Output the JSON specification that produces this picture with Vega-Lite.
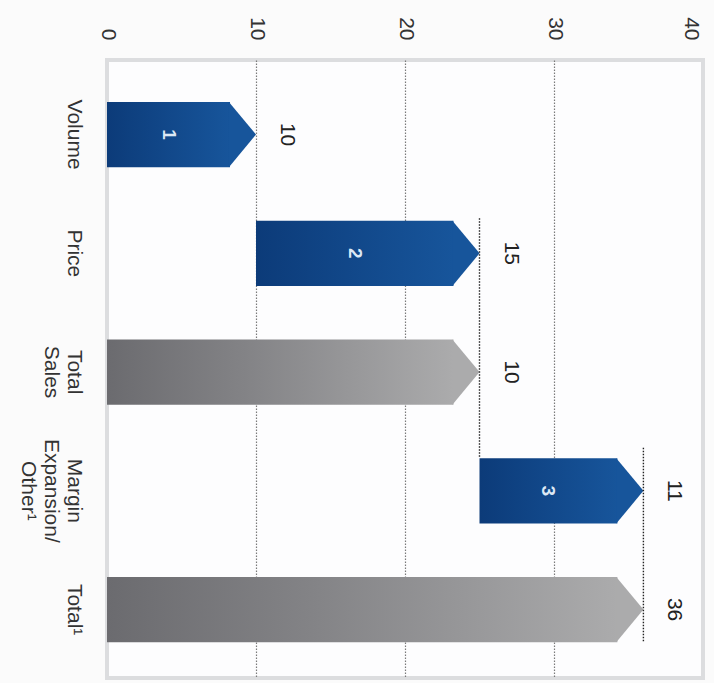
{
  "$schema": "https://vega.github.io/schema/vega-lite/v6.json",
  "width": 596,
  "height": 618,
  "autosize": "none",
  "padding": {"left": 107, "top": 60, "right": 11, "bottom": 5},
  "background": "#fbfbfb",
  "config": {
    "view": {"stroke": "#dcdddf", "strokeWidth": 4, "fill": "#fdfdfe"},
    "font": "Liberation Sans"
  },
  "datasets": {
    "bars": [
      {"cat": "Volume", "start": 0, "end": 10, "kind": "step", "num": "1", "label": "10"},
      {"cat": "Price", "start": 10, "end": 25, "kind": "step", "num": "2", "label": "15"},
      {"cat": "Total|Sales", "start": 0, "end": 25, "kind": "total", "num": "", "label": "10"},
      {"cat": "Margin|Expansion/|Other¹", "start": 25, "end": 36, "kind": "step", "num": "3", "label": "11"},
      {"cat": "Total¹", "start": 0, "end": 36, "kind": "total", "num": "", "label": "36"}
    ],
    "connectors": [
      {"value": 25, "from": "Price", "to": "Margin|Expansion/|Other¹", "seg": "a"},
      {"value": 36, "from": "Margin|Expansion/|Other¹", "to": "Total¹", "seg": "b"}
    ]
  },
  "layer": [
    {
      "data": {"name": "bars"},
      "transform": [{"filter": "datum.kind == 'step'"}],
      "mark": {
        "type": "bar",
        "x2Offset": -26,
        "color": {"gradient": "linear", "x1": 0, "x2": 1, "y1": 0, "y2": 0,
          "stops": [{"offset": 0, "color": "#0c3b79"}, {"offset": 1, "color": "#17559b"}]}
      },
      "encoding": {
        "y": {
          "field": "cat", "type": "nominal",
          "scale": {"domain": ["Volume", "Price", "Total|Sales", "Margin|Expansion/|Other¹", "Total¹"], "paddingInner": 0.45, "paddingOuter": 0.327, "align": 0.54},
          "axis": {
            "orient": "left", "title": null, "domain": false, "ticks": false,
            "labelAngle": 90, "labelAlign": "center", "labelBaseline": "top",
            "labelPadding": 23, "labelFontSize": 21, "labelColor": "#333333",
            "labelLineHeight": 23, "labelOverlap": false, "labelBound": false,
            "labelExpr": "split(datum.label, '|')", "grid": false
          }
        },
        "x": {
          "field": "start", "type": "quantitative",
          "scale": {"domain": [0, 40], "nice": false, "zero": false},
          "axis": {
            "orient": "top", "title": null, "domain": false, "ticks": false,
            "values": [0, 10, 20, 30, 40],
            "labelAngle": 90, "labelAlign": "right", "labelBaseline": "middle",
            "labelPadding": 20, "labelFontSize": 21, "labelColor": "#333333",
            "labelFlush": false, "labelOverlap": false, "labelBound": false,
            "labelOffset": {"condition": {"test": "datum.value == 40", "value": -13}, "value": 0},
            "grid": true, "gridDash": [1.5, 1.5], "gridColor": "#7a7a7a", "gridWidth": 1.2,
            "gridOpacity": {"condition": {"test": "datum.value == 0 || datum.value == 40", "value": 0}, "value": 1}
          }
        },
        "x2": {"field": "end"}
      }
    },
    {
      "data": {"name": "bars"},
      "transform": [{"filter": "datum.kind == 'total'"}],
      "mark": {
        "type": "bar",
        "x2Offset": -26,
        "color": {"gradient": "linear", "x1": 0, "x2": 1, "y1": 0, "y2": 0,
          "stops": [{"offset": 0, "color": "#6b6b6f"}, {"offset": 0.4, "color": "#838386"}, {"offset": 1, "color": "#ababac"}]}
      },
      "encoding": {
        "y": {"field": "cat", "type": "nominal"},
        "x": {"field": "start", "type": "quantitative"},
        "x2": {"field": "end"}
      }
    },
    {
      "data": {"name": "bars"},
      "transform": [{"filter": "datum.kind == 'step'"}],
      "mark": {"type": "point", "shape": "M -0.83 -1 L 0 0 L -0.83 1 Z", "filled": true, "opacity": 1, "size": 4264, "color": "#17559b", "strokeWidth": 0},
      "encoding": {
        "y": {"field": "cat", "type": "nominal"},
        "x": {"field": "end", "type": "quantitative"}
      }
    },
    {
      "data": {"name": "bars"},
      "transform": [{"filter": "datum.kind == 'total'"}],
      "mark": {"type": "point", "shape": "M -0.83 -1 L 0 0 L -0.83 1 Z", "filled": true, "opacity": 1, "size": 4264, "color": "#ababac", "strokeWidth": 0},
      "encoding": {
        "y": {"field": "cat", "type": "nominal"},
        "x": {"field": "end", "type": "quantitative"}
      }
    },
    {
      "data": {"name": "connectors"},
      "transform": [{"filter": "datum.seg == 'a'"}],
      "mark": {"type": "rule", "strokeDash": [1.5, 1.5], "color": "#222222", "strokeWidth": 1.4, "yOffset": -35, "y2Offset": -33},
      "encoding": {
        "x": {"field": "value", "type": "quantitative"},
        "y": {"field": "from", "type": "nominal"},
        "y2": {"field": "to"}
      }
    },
    {
      "data": {"name": "connectors"},
      "transform": [{"filter": "datum.seg == 'b'"}],
      "mark": {"type": "rule", "strokeDash": [1.5, 1.5], "color": "#222222", "strokeWidth": 1.4, "yOffset": -43, "y2Offset": 33},
      "encoding": {
        "x": {"field": "value", "type": "quantitative"},
        "y": {"field": "from", "type": "nominal"},
        "y2": {"field": "to"}
      }
    },
    {
      "data": {"name": "bars"},
      "mark": {"type": "text", "angle": 90, "align": "center", "baseline": "middle", "xOffset": 31, "fontSize": 21, "color": "#222222"},
      "encoding": {
        "y": {"field": "cat", "type": "nominal"},
        "x": {"field": "end", "type": "quantitative"},
        "text": {"field": "label"}
      }
    },
    {
      "data": {"name": "bars"},
      "transform": [
        {"filter": "datum.kind == 'step'"},
        {"fold": ["start", "end"], "as": ["edge", "pos"]}
      ],
      "mark": {"type": "text", "angle": 90, "align": "center", "baseline": "middle", "xOffset": -13, "fontSize": 19, "fontWeight": "bold", "color": "#dce8f5"},
      "encoding": {
        "y": {"field": "cat", "type": "nominal"},
        "x": {"aggregate": "mean", "field": "pos", "type": "quantitative"},
        "text": {"field": "num", "type": "nominal"}
      }
    }
  ]
}
